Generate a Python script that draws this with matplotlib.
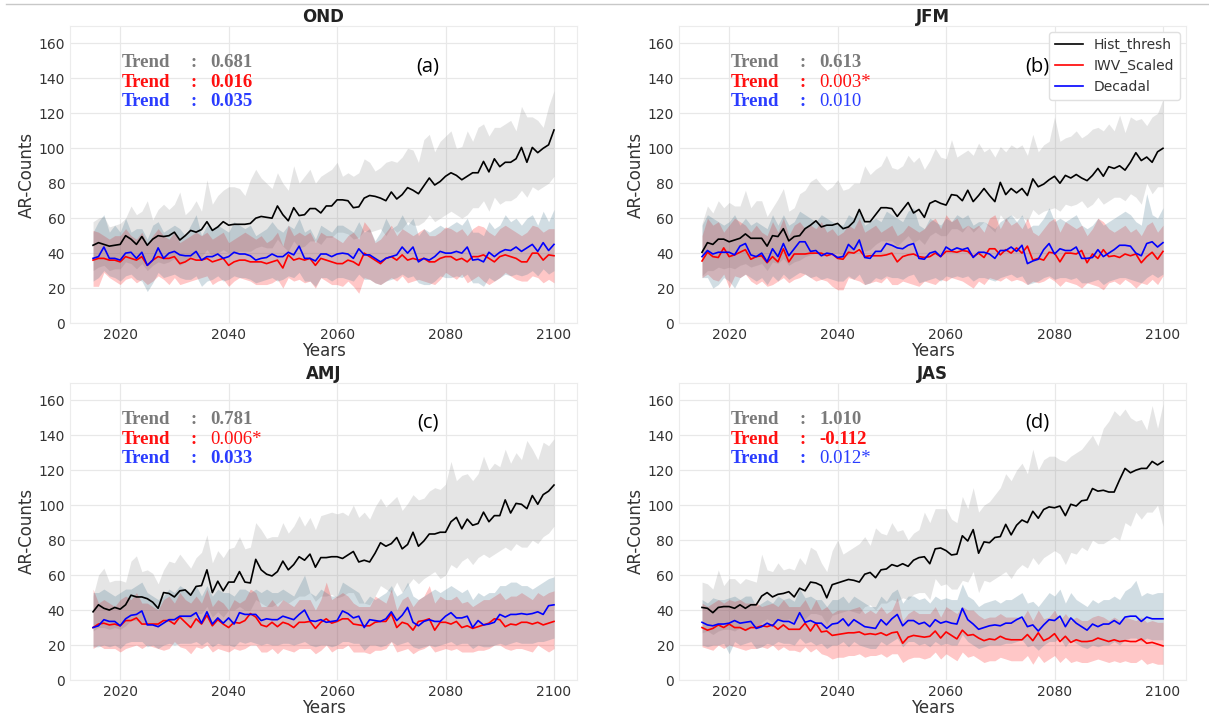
import matplotlib
matplotlib.use("Agg")
import matplotlib.pyplot as plt
import numpy as np

years = np.arange(2015, 2101)

# ---------------- OND ----------------
ond_hist = [44.5, 46, 45, 44, 44.5, 45, 50, 48, 45, 49.5,
            44.5, 48, 50, 49.5, 50, 52, 47.5, 50, 53, 52,
            53.5, 58, 53, 55, 58, 56, 56.5, 56.5, 56.5, 57,
            60, 61, 60.5, 60, 67, 62, 58.5, 66, 61.5, 62,
            65.5, 65.5, 63, 67, 67, 70.5, 70.5, 70, 66, 66.5,
            71.5, 73, 72.5, 71.5, 70, 75, 71, 73.5, 77.5, 76,
            74, 78.5, 83, 79, 81, 84, 86, 84.5, 82, 84,
            86, 86, 92.5, 86.5, 94, 89.5, 92, 92, 94, 100.5,
            92, 100.5, 97.5, 100, 102, 110.5]
ond_hist_hi = [58, 60, 61, 55, 56, 57, 60, 67, 62, 64,
               70, 59, 65, 68, 65, 68, 75, 62, 65, 70,
               64, 82, 68, 73, 76, 78, 78, 77, 73, 82,
               88, 83, 80, 77, 86, 80, 76, 90, 80, 84,
               88, 80, 84, 86, 88, 92, 84, 86, 84, 86,
               94, 92, 87, 89, 92, 93, 92, 95, 100, 99,
               92, 105, 108, 98, 104, 107, 110, 100, 101, 110,
               104, 112, 114, 107, 112, 112, 114, 116, 110, 124,
               118, 118, 116, 112, 124, 133]
ond_hist_lo = [30, 32, 33, 30, 31, 31, 35, 34, 31, 34,
               30, 33, 35, 34, 35, 37, 33, 35, 38, 37,
               38, 42, 38, 40, 42, 40, 40, 41, 41, 41,
               43, 44, 43, 43, 48, 44, 41, 47, 43, 44,
               47, 47, 45, 49, 49, 52, 52, 51, 48, 49,
               53, 52, 53, 54, 50, 55, 52, 54, 58, 56,
               56, 58, 62, 58, 60, 62, 64, 62, 60, 62,
               66, 66, 70, 64, 72, 68, 70, 70, 72, 76,
               72, 78, 76, 78, 80, 84]
ond_iwv = [36, 37, 37, 36, 36, 35, 38, 37, 36, 38,
           33, 36, 38, 37, 37, 38, 34, 35, 37, 36,
           36, 37, 35, 36, 37, 33, 35, 36, 36, 35,
           35, 35, 34, 35, 36, 31.5, 39, 36, 37, 36,
           37, 33, 37, 36, 35, 34, 34, 36, 35, 33,
           40, 38, 36, 34, 37, 38, 36, 39, 36, 37,
           36, 37, 35, 35, 37, 38, 38, 36, 37, 35,
           38, 38, 39, 37, 35, 38, 39, 38, 37, 35,
           35, 40, 40, 36, 39, 38.5]
ond_iwv_hi = [53, 52, 50, 48, 50, 50, 54, 50, 48, 52,
              45, 50, 54, 50, 48, 52, 46, 48, 50, 52,
              50, 52, 48, 50, 52, 46, 48, 50, 52, 50,
              48, 50, 46, 48, 52, 44, 56, 50, 52, 50,
              52, 46, 52, 50, 50, 48, 46, 50, 52, 48,
              58, 54, 46, 48, 52, 56, 50, 54, 52, 50,
              52, 54, 50, 50, 52, 55, 54, 52, 54, 50,
              54, 56, 55, 52, 50, 54, 56, 54, 52, 50,
              52, 56, 55, 52, 54, 54]
ond_iwv_lo = [21, 21, 29, 26, 24, 22, 25, 26, 23, 25,
              22, 24, 27, 25, 22, 26, 22, 23, 24, 25,
              26, 27, 22, 24, 25, 21, 24, 26, 25, 24,
              22, 22, 22, 23, 25, 20, 26, 24, 25, 23,
              24, 20, 26, 24, 22, 22, 21, 24, 21, 17,
              26, 25, 23, 22, 24, 26, 24, 27, 23, 24,
              25, 24, 23, 22, 25, 29, 27, 25, 28, 23,
              25, 27, 24, 22, 24, 26, 29, 27, 25, 24,
              24, 27, 26, 23, 25, 23]
ond_dec = [37, 38, 43.5, 37, 37, 36, 40, 40.5, 37, 40.5,
           33, 36, 43, 37, 40, 41, 39, 38.5, 38.5, 41,
           36, 38, 38, 39.5, 37, 38, 40.5, 39.5, 39.5, 38.5,
           36, 37, 37.5, 39.5, 38, 38, 40.5, 39, 44, 37,
           37, 35.5, 39.5, 39.5, 38, 39.5, 40, 39.5, 37, 42.5,
           39, 39, 37, 35, 37, 38, 39, 43.5, 40, 43.5,
           35, 37, 36, 38, 41, 40, 40, 41, 40, 43.5,
           36, 36.5, 35, 40.5, 38, 40.5, 42, 41.5, 43.5, 41,
           43, 45, 41, 46, 41.5, 45]
ond_dec_hi = [52, 58, 62, 52, 56, 52, 60, 52, 54, 54,
              48, 56, 58, 52, 54, 56, 54, 50, 56, 62,
              50, 56, 54, 56, 54, 52, 58, 56, 54, 56,
              50, 52, 54, 58, 54, 52, 56, 54, 60, 52,
              54, 48, 56, 54, 52, 56, 56, 54, 52, 58,
              52, 54, 47, 52, 60, 54, 56, 62, 56, 60,
              50, 54, 52, 54, 56, 54, 56, 58, 56, 60,
              52, 52, 50, 58, 54, 56, 62, 58, 60, 56,
              60, 62, 56, 64, 58, 65]
ond_dec_lo = [24, 26, 30, 27, 26, 24, 27, 28, 25, 24,
              18, 23, 29, 26, 27, 28, 26, 25, 25, 27,
              21, 24, 25, 27, 24, 25, 27, 26, 26, 25,
              23, 24, 25, 26, 24, 25, 27, 26, 29, 24,
              24, 21, 26, 26, 24, 26, 26, 25, 24, 28,
              25, 25, 23, 22, 24, 25, 26, 28, 26, 27,
              23, 22, 22, 24, 27, 26, 26, 27, 26, 28,
              23, 23, 21, 26, 24, 26, 28, 27, 28, 27,
              28, 30, 27, 31, 28, 30]

# ---------------- JFM ----------------
jfm_hist = [40.5, 46, 45, 48, 48, 46.5, 47.5, 48.5, 51, 48.5,
            48.5, 48.5, 44, 50, 49.5, 54, 47, 49.5, 50, 54,
            56, 58.5, 55, 56, 56, 57, 54, 55, 58, 65,
            58, 58, 62, 66, 66, 65.5, 61, 65, 69, 63,
            65, 60.5, 68.5, 70, 68.5, 67.5, 73.5, 73, 70, 76,
            69.5, 73, 77, 73, 69.5, 80.5, 73.5, 77, 74.5, 77,
            73, 82.5, 78, 79.5, 82, 84, 80, 84.5, 83, 85,
            83, 81.5, 84.5, 88.5, 84, 89.5, 88.5, 90, 87.5, 92,
            97.5, 93, 95, 92, 98, 100]
jfm_hist_hi = [57, 67, 63, 70, 66, 69, 67, 67, 76, 66,
               70, 70, 61, 66, 71, 77, 64, 66, 74, 76,
               81, 83, 79, 76, 78, 82, 76, 77, 80, 80,
               90, 85, 88, 90, 96, 89, 88, 90, 96, 92,
               95, 88, 93, 100, 95, 94, 105, 95, 97, 99,
               96, 103, 98, 100, 95, 101, 98, 102, 100, 102,
               96, 108, 98, 102, 104, 118, 104, 106, 107, 110,
               106, 108, 111, 112, 110, 114, 110, 119, 109, 118,
               116, 117, 113, 118, 120, 128]
jfm_hist_lo = [27, 30, 30, 32, 31, 32, 31, 33, 34, 32,
               33, 34, 30, 35, 34, 37, 33, 35, 36, 38,
               39, 40, 38, 39, 40, 40, 38, 39, 41, 45,
               41, 42, 45, 47, 47, 47, 44, 47, 50, 46,
               48, 45, 50, 52, 50, 50, 54, 54, 52, 56,
               52, 55, 58, 55, 52, 62, 58, 62, 60, 61,
               58, 65, 62, 64, 65, 66, 64, 68, 67, 68,
               70, 66, 68, 72, 68, 70, 72, 72, 70, 74,
               72, 68, 80, 74, 78, 78]
jfm_iwv = [35.5, 40.5, 38, 37.5, 43, 38, 39, 40.5, 42, 36.5,
           38, 38.5, 34.5, 38, 35, 42.5, 35, 39.5, 39.5, 39.5,
           40, 40, 40, 38.5, 39.5, 37, 36.5, 40.5, 40, 42,
           38, 38.5, 38.5, 38.5, 39, 40, 35, 38, 39, 39.5,
           38, 37.5, 38, 40, 38, 41, 41, 40.5, 41.5, 41,
           38, 40, 37.5, 42.5, 42.5, 39, 42, 40, 43, 40,
           44, 36, 37, 36, 40.5, 40, 35, 40, 40, 39.5,
           41.5, 34.5, 39.5, 37, 42, 38, 38.5, 37.5, 39.5, 38.5,
           39.5, 34.5, 38, 40.5, 36.5, 41]
jfm_iwv_hi = [50, 60, 56, 58, 52, 56, 60, 58, 56, 52,
              56, 52, 50, 58, 52, 60, 50, 56, 58, 54,
              56, 54, 58, 52, 54, 50, 52, 56, 54, 60,
              52, 54, 56, 52, 54, 56, 50, 52, 56, 54,
              52, 54, 58, 60, 54, 62, 58, 60, 54, 56,
              54, 56, 52, 60, 62, 54, 60, 56, 58, 54,
              60, 52, 50, 54, 58, 60, 52, 58, 56, 54,
              56, 50, 54, 60, 58, 54, 52, 54, 56, 52,
              54, 50, 56, 58, 52, 56]
jfm_iwv_lo = [26, 28, 25, 24, 28, 20, 27, 26, 28, 24,
              22, 24, 21, 22, 24, 26, 23, 25, 26, 28,
              26, 24, 25, 24, 21, 19, 19, 26, 25, 24,
              22, 23, 24, 23, 26, 22, 22, 24, 23, 22,
              21, 24, 23, 22, 25, 24, 26, 25, 24, 22,
              20, 24, 22, 26, 25, 24, 26, 24, 25, 24,
              22, 24, 23, 24, 26, 24, 21, 24, 23, 22,
              20, 23, 22, 21, 19, 23, 24, 22, 25, 23,
              20, 23, 22, 25, 22, 27]
jfm_dec = [38, 41.5, 39.5, 40.5, 40.5, 40.5, 39, 44, 45.5, 39,
           38, 40, 35, 42.5, 38, 45.5, 38.5, 42.5, 46.5, 46.5,
           41, 41.5, 38.5, 40, 39.5, 37.5, 38, 45, 42, 47.5,
           37.5, 37, 41, 41, 45.5, 44.5, 43, 42.5, 44.5, 45.5,
           37, 36.5, 40, 41, 38, 43.5, 41.5, 43, 42, 43,
           37.5, 40.5, 40.5, 39.5, 37, 41.5, 41.5, 43.5, 41, 44.5,
           34, 35.5, 36.5, 42, 45.5, 39.5, 42.5, 41.5, 41.5, 43.5,
           37, 37, 37.5, 42, 38, 40, 42, 44.5, 44.5, 44,
           40, 38.5, 45.5, 46.5, 43.5, 46]
jfm_dec_hi = [56, 62, 60, 58, 56, 58, 62, 56, 60, 56,
              58, 56, 54, 62, 56, 62, 56, 58, 64, 62,
              60, 58, 62, 60, 58, 56, 56, 62, 60, 64,
              56, 58, 60, 58, 64, 62, 60, 58, 64, 66,
              56, 54, 60, 58, 56, 60, 58, 62, 60, 62,
              56, 58, 58, 56, 54, 58, 60, 62, 58, 62,
              54, 56, 56, 60, 66, 58, 60, 58, 60, 62,
              56, 54, 56, 60, 56, 58, 60, 62, 64, 62,
              58, 56, 74, 62, 60, 66]
jfm_dec_lo = [26, 26, 20, 22, 26, 24, 20, 26, 28, 26,
              24, 26, 22, 27, 24, 28, 25, 27, 29, 28,
              26, 27, 25, 26, 25, 24, 24, 27, 25, 28,
              22, 23, 26, 25, 27, 26, 26, 25, 27, 28,
              23, 24, 25, 26, 24, 27, 26, 27, 26, 27,
              24, 26, 26, 25, 24, 26, 27, 28, 26, 27,
              22, 23, 24, 26, 27, 25, 26, 26, 25, 26,
              23, 23, 24, 25, 22, 24, 25, 26, 26, 25,
              24, 23, 26, 28, 26, 28]

# ---------------- AMJ ----------------
amj_hist = [39, 43, 41, 40, 41.5, 40.5, 43, 48.5, 47.5, 47.5,
            46.5, 44.5, 41, 50, 49.5, 47.5, 51, 51.5, 48.5, 53.5,
            54, 63, 50, 56.5, 51, 56, 56, 62, 56, 55.5,
            69, 63, 60.5, 59.5, 62, 68, 63, 66, 70.5, 68.5,
            72, 64.5, 70, 70, 70.5, 70.5, 69.5, 71.5, 73.5, 67.5,
            68.5, 67.5, 72.5, 78.5, 76.5, 78, 81.5, 75, 77.5, 84.5,
            76.5, 79.5, 83.5, 83.5, 84.5, 84.5, 90.5, 93, 86.5, 92,
            88.5, 89.5, 96, 90.5, 94, 94, 103, 95.5, 101, 100.5,
            98, 105.5, 100.5, 106, 108, 111.5]
amj_hist_hi = [48, 60, 64, 56, 57, 57, 56, 68, 71, 62,
               63, 61, 55, 63, 68, 67, 72, 68, 64, 70,
               73, 83, 67, 74, 70, 75, 76, 82, 75, 76,
               90, 86, 81, 82, 82, 90, 84, 88, 94, 88,
               93, 86, 94, 95, 96, 95, 96, 94, 100, 93,
               96, 92, 99, 104, 99, 102, 105, 97, 101, 106,
               103, 104, 108, 110, 109, 112, 125, 114, 117, 118,
               114, 118, 128, 120, 124, 122, 132, 124, 130, 126,
               137, 132, 126, 136, 134, 138]
amj_hist_lo = [28, 30, 30, 29, 30, 29, 31, 34, 34, 33,
               32, 32, 30, 35, 34, 34, 36, 36, 35, 38,
               38, 42, 36, 39, 36, 40, 40, 42, 40, 40,
               46, 44, 42, 42, 44, 46, 44, 46, 48, 48,
               50, 45, 48, 48, 49, 47, 48, 50, 50, 44,
               44, 43, 48, 54, 52, 50, 56, 50, 54, 58,
               55, 58, 60, 62, 58, 60, 66, 64, 68, 70,
               66, 70, 72, 70, 72, 74, 76, 74, 78, 76,
               76, 80, 78, 82, 84, 88]
amj_iwv = [30, 32, 32.5, 31.5, 32, 31, 34, 34, 35.5, 32,
           32, 32, 32, 34, 34, 32, 36, 33, 30, 35,
           32, 37, 31, 34.5, 32, 30, 33, 32.5, 34, 38,
           36, 31.5, 30.5, 33, 30.5, 33, 32, 30, 33, 33,
           33.5, 29.5, 33, 35, 32.5, 33.5, 35, 35, 32, 31.5,
           31, 31, 33, 33.5, 33.5, 38, 30, 33, 32, 28.5,
           33.5, 34, 35, 28.5, 33, 33, 32, 33.5, 30, 31,
           29.5, 30.5, 31.5, 32.5, 35, 34.5, 30.5, 32, 31.5, 33,
           33, 32, 33, 31.5, 32.5, 33.5]
amj_iwv_hi = [52, 44, 46, 44, 42, 46, 48, 46, 50, 44,
              44, 42, 40, 46, 48, 44, 50, 46, 44, 48,
              44, 52, 42, 46, 44, 40, 46, 44, 46, 52,
              50, 42, 42, 46, 42, 46, 44, 42, 46, 46,
              46, 40, 46, 56, 46, 48, 50, 48, 44, 42,
              42, 42, 48, 46, 44, 52, 40, 46, 48, 42,
              46, 48, 54, 44, 48, 46, 46, 48, 44, 45,
              42, 44, 46, 46, 48, 50, 46, 48, 48, 50,
              48, 46, 50, 48, 50, 51]
amj_iwv_lo = [18, 20, 18, 18, 18, 16, 18, 19, 20, 18,
              20, 19, 18, 17, 18, 22, 19, 18, 15, 19,
              18, 20, 16, 18, 17, 16, 18, 17, 18, 20,
              20, 16, 16, 18, 15, 18, 17, 16, 18, 18,
              18, 15, 17, 20, 16, 18, 18, 20, 16, 16,
              16, 15, 17, 17, 18, 22, 16, 17, 18, 15,
              17, 18, 20, 16, 17, 18, 17, 18, 16, 16,
              16, 17, 17, 18, 20, 20, 18, 17, 18, 18,
              17, 16, 20, 18, 16, 18]
amj_dec = [30, 31, 34.5, 33.5, 33.5, 31, 35, 37, 37.5, 39.5,
           31.5, 31.5, 30.5, 32.5, 34.5, 34.5, 36.5, 36.5, 36.5, 38.5,
           32.5, 39, 32, 35.5, 32.5, 35.5, 32, 38.5, 37.5, 37.5,
           37.5, 34, 35, 34.5, 34.5, 36.5, 35.5, 34.5, 37.5, 40,
           34, 33.5, 34.5, 33, 33.5, 34, 39.5, 38, 35.5, 36.5,
           30, 34.5, 34, 33.5, 35, 39, 34, 37, 41.5, 33,
           31, 33.5, 34.5, 33.5, 33.5, 36.5, 38.5, 35.5, 35.5, 36.5,
           30, 34, 31.5, 32, 33, 37.5, 36, 37.5, 37.5, 38,
           37.5, 38, 39, 37.5, 42.5, 43]
amj_dec_hi = [50, 50, 52, 50, 48, 50, 52, 52, 54, 56,
              50, 48, 46, 48, 52, 50, 54, 52, 50, 54,
              48, 54, 48, 52, 50, 50, 48, 52, 52, 50,
              52, 50, 52, 50, 50, 52, 50, 48, 54, 60,
              50, 48, 52, 50, 48, 48, 56, 54, 52, 50,
              44, 48, 46, 48, 50, 54, 48, 50, 56, 48,
              46, 48, 50, 52, 50, 52, 54, 52, 50, 52,
              46, 50, 48, 50, 50, 54, 54, 56, 56, 54,
              54, 52, 54, 56, 58, 59]
amj_dec_lo = [19, 19, 20, 19, 20, 18, 21, 22, 22, 22,
              19, 20, 18, 20, 21, 20, 21, 21, 21, 22,
              20, 22, 19, 21, 20, 20, 19, 22, 21, 22,
              21, 20, 21, 20, 20, 21, 21, 20, 21, 22,
              20, 19, 20, 20, 19, 20, 22, 22, 21, 21,
              17, 20, 20, 19, 20, 22, 20, 21, 22, 19,
              18, 19, 20, 19, 20, 21, 22, 20, 21, 21,
              18, 20, 19, 19, 20, 21, 20, 21, 22, 21,
              21, 21, 22, 22, 23, 24]

# ---------------- JAS ----------------
jas_hist = [41.5, 41, 38.5, 41.5, 42, 42, 41, 43, 41, 43,
            43, 48, 50, 47.5, 49, 49.5, 50.5, 47.5, 52.5, 51,
            56, 55.5, 54, 47, 54.5, 55.5, 56.5, 57.5, 57, 56,
            60.5, 61.5, 58.5, 63, 63.5, 66, 65, 66.5, 65, 68.5,
            70, 70.5, 66.5, 75, 75.5, 74, 71.5, 72, 82.5, 79.5,
            86, 72.5, 79, 78.5, 81.5, 82, 89, 83, 88.5, 91.5,
            90, 96.5, 92.5, 97.5, 99, 98.5, 99.5, 94, 100.5, 99.5,
            102.5, 103, 109.5, 108, 108.5, 107.5, 107.5, 114.5, 121, 118.5,
            120, 121, 121, 125, 123, 125]
jas_hist_hi = [56, 55, 52, 63, 54, 58, 58, 55, 58, 57,
               56, 72, 63, 62, 67, 63, 64, 63, 70, 66,
               76, 74, 67, 62, 74, 80, 72, 74, 76, 78,
               82, 77, 87, 84, 83, 90, 85, 86, 80, 84,
               86, 96, 90, 98, 98, 98, 92, 90, 105, 98,
               110, 96, 100, 102, 106, 110, 118, 114, 120, 124,
               118, 132, 120, 126, 128, 128, 126, 125, 128, 130,
               132, 136, 140, 134, 144, 148, 154, 151, 155, 150,
               148, 149, 143, 157, 144, 158]
jas_hist_lo = [27, 28, 26, 28, 29, 29, 28, 30, 28, 30,
               30, 33, 35, 33, 34, 34, 35, 33, 36, 35,
               38, 38, 37, 32, 37, 38, 39, 40, 39, 38,
               42, 43, 40, 44, 44, 46, 45, 47, 46, 49,
               50, 50, 46, 58, 54, 55, 52, 52, 57, 56,
               62, 50, 57, 56, 58, 60, 62, 58, 63, 66,
               64, 70, 66, 70, 72, 74, 72, 66, 73, 72,
               76, 74, 80, 78, 78, 80, 82, 80, 90, 88,
               96, 92, 96, 96, 100, 88]
jas_iwv = [30, 28.5, 29.5, 31.5, 30, 32, 30, 30, 28.5, 30,
           30, 31, 30.5, 31.5, 29, 31.5, 29, 29, 29, 32.5,
           28, 32.5, 27.5, 28, 25.5, 26, 26.5, 27, 27, 27.5,
           26, 26.5, 26, 27, 25.5, 27, 27.5, 21, 24.5, 25.5,
           25, 24.5, 25, 28, 24, 27.5, 25.5, 23.5, 28.5, 25.5,
           26, 24, 22.5, 23.5, 23, 25, 23.5, 23, 23, 23,
           26, 22.5, 27, 22.5, 24, 26.5, 22, 25, 21.5, 23,
           22, 22, 22.5, 24, 23, 22, 23, 22, 22.5, 22,
           22, 23.5, 21, 21.5, 20.5, 19.5]
jas_iwv_hi = [44, 42, 44, 46, 44, 46, 45, 46, 44, 44,
              44, 42, 43, 44, 42, 46, 42, 42, 42, 46,
              40, 46, 40, 42, 38, 40, 40, 40, 41, 42,
              38, 40, 38, 42, 38, 40, 47, 34, 38, 40,
              38, 38, 38, 42, 36, 42, 40, 38, 42, 40,
              40, 37, 35, 36, 36, 38, 36, 36, 36, 35,
              40, 34, 40, 35, 36, 40, 34, 38, 34, 36,
              34, 34, 36, 37, 36, 34, 36, 34, 36, 35,
              34, 36, 33, 34, 33, 33]
jas_iwv_lo = [19, 18, 17, 20, 18, 20, 19, 18, 17, 18,
              18, 19, 18, 20, 17, 19, 17, 17, 16, 19,
              16, 18, 15, 14, 12, 13, 13, 14, 14, 15,
              13, 14, 14, 15, 13, 15, 15, 10, 12, 13,
              13, 12, 13, 16, 12, 15, 13, 11, 16, 13,
              14, 12, 10, 11, 11, 13, 12, 11, 11, 11,
              14, 9, 14, 10, 12, 14, 10, 13, 10, 11,
              10, 10, 11, 12, 11, 10, 11, 10, 11, 10,
              10, 12, 9, 10, 9, 9]
jas_dec = [33, 31.5, 31, 32, 32, 32.5, 34, 32.5, 33, 33.5,
           29.5, 30.5, 32.5, 31, 34.5, 33.5, 33.5, 32, 38.5, 33,
           34, 32.5, 32.5, 29.5, 32, 32.5, 35, 31, 34.5, 32.5,
           30.5, 30, 29.5, 34.5, 31.5, 35, 37.5, 31, 34, 34,
           32, 33, 30.5, 34.5, 32.5, 33.5, 32.5, 32, 41, 34.5,
           32, 29, 30, 31, 31.5, 31, 32.5, 32.5, 34.5, 36,
           30.5, 31.5, 28, 31.5, 34.5, 34, 36.5, 30.5, 35.5, 32.5,
           30.5, 28.5, 32, 30.5, 32, 32, 34, 32, 36, 36.5,
           36.5, 33.5, 36, 35, 35, 35]
jas_dec_hi = [46, 44, 47, 46, 46, 47, 48, 46, 48, 48,
              42, 44, 46, 44, 48, 46, 47, 45, 52, 47,
              48, 46, 46, 42, 46, 46, 48, 44, 48, 46,
              44, 42, 42, 48, 45, 50, 52, 44, 48, 48,
              46, 47, 44, 48, 46, 47, 46, 46, 55, 48,
              46, 42, 44, 45, 46, 44, 46, 46, 48, 50,
              44, 45, 42, 46, 50, 48, 52, 44, 50, 46,
              44, 42, 46, 44, 46, 46, 48, 46, 51, 53,
              57, 48, 50, 49, 50, 50]
jas_dec_lo = [20, 19, 20, 20, 21, 15, 22, 20, 21, 22,
              18, 19, 21, 20, 22, 21, 21, 20, 24, 21,
              22, 20, 21, 18, 20, 20, 22, 19, 22, 20,
              19, 18, 18, 22, 20, 22, 24, 19, 22, 22,
              20, 21, 19, 22, 20, 21, 20, 20, 26, 22,
              20, 18, 19, 20, 20, 20, 21, 21, 22, 23,
              19, 20, 17, 20, 22, 22, 24, 19, 23, 21,
              19, 18, 20, 19, 20, 20, 22, 20, 23, 24,
              24, 22, 24, 23, 23, 23]

seasons = ["OND", "JFM", "AMJ", "JAS"]
tags = ["(a)", "(b)", "(c)", "(d)"]
# trend value, shown in bold when significant
trends = [[("0.681", True), ("0.016", True), ("0.035", True)],
          [("0.613", True), ("0.003*", False), ("0.010", False)],
          [("0.781", True), ("0.006*", False), ("0.033", True)],
          [("1.010", True), ("-0.112", True), ("0.012*", False)]]

series = {
    "OND": (ond_hist, ond_hist_lo, ond_hist_hi, ond_iwv, ond_iwv_lo, ond_iwv_hi,
            ond_dec, ond_dec_lo, ond_dec_hi),
    "JFM": (jfm_hist, jfm_hist_lo, jfm_hist_hi, jfm_iwv, jfm_iwv_lo, jfm_iwv_hi,
            jfm_dec, jfm_dec_lo, jfm_dec_hi),
    "AMJ": (amj_hist, amj_hist_lo, amj_hist_hi, amj_iwv, amj_iwv_lo, amj_iwv_hi,
            amj_dec, amj_dec_lo, amj_dec_hi),
    "JAS": (jas_hist, jas_hist_lo, jas_hist_hi, jas_iwv, jas_iwv_lo, jas_iwv_hi,
            jas_dec, jas_dec_lo, jas_dec_hi),
}

trend_colors = ["#7a7a7a", "#ff1010", "#2a3cff"]
serif = "Liberation Serif"


def draw_panel(ax, season, tag, trend):
    (hist, hist_lo, hist_hi, iwv, iwv_lo, iwv_hi,
     dec, dec_lo, dec_hi) = series[season]

    ax.fill_between(years, hist_lo, hist_hi, color="grey", alpha=0.2, lw=0)
    ax.fill_between(years, iwv_lo, iwv_hi, color="red", alpha=0.22, lw=0)
    ax.fill_between(years, dec_lo, dec_hi, color="#4a7a92", alpha=0.25, lw=0)

    ax.plot(years, hist, color="black", lw=1.2, label="Hist_thresh")
    ax.plot(years, iwv, color="red", lw=1.2, label="IWV_Scaled")
    ax.plot(years, dec, color="blue", lw=1.2, label="Decadal")

    ax.set_ylim(0, 170)
    ax.set_yticks(range(0, 161, 20))
    ax.set_xticks(range(2020, 2101, 20))
    ax.grid(True, color="#e8e8e8", lw=0.9)
    ax.set_axisbelow(True)
    for sp in ax.spines.values():
        sp.set_color("#ececec")
    ax.tick_params(length=0, pad=3.5, labelsize=10, colors="#333333")
    ax.set_xlabel("Years", fontsize=12, color="#333333", labelpad=0)
    ax.set_ylabel("AR-Counts", fontsize=12, color="#333333", labelpad=2)
    ax.set_title(season, fontsize=12, fontweight="bold", color="#222222", pad=2.5)

    rows_y = [0.877, 0.81, 0.745]
    for (val, strong), c, y in zip(trend, trend_colors, rows_y):
        ax.text(0.102, y, "Trend", transform=ax.transAxes, family=serif,
                fontweight="bold", fontsize=13.5, color=c, va="center")
        ax.text(0.243, y, ":", transform=ax.transAxes, family=serif,
                fontweight="bold", fontsize=13.5, color=c, va="center", ha="center")
        ax.text(0.277, y, val, transform=ax.transAxes, family=serif,
                fontweight="bold" if strong else "normal", fontsize=13.5,
                color=c, va="center")

    ax.text(0.706, 0.865, tag, transform=ax.transAxes, family="Open Sans",
            fontsize=14.5, color="black", ha="center", va="center")


fig = plt.figure(figsize=(12.09, 7.17), dpi=100)
boxes = [[0.0579, 0.5495, 0.4194, 0.4142],
         [0.5616, 0.5495, 0.4194, 0.4142],
         [0.0579, 0.0516, 0.4194, 0.4146],
         [0.5616, 0.0516, 0.4194, 0.4146]]

for box, season, tag, trend in zip(boxes, seasons, tags, trends):
    ax = fig.add_axes(box)
    draw_panel(ax, season, tag, trend)
    if season == "JFM":
        leg = ax.legend(loc="upper right", fontsize=10, frameon=True,
                        framealpha=1, edgecolor="#e0e0e0", fancybox=True,
                        borderaxespad=0.45)
        for t in leg.get_texts():
            t.set_color("#333333")

# thin rule along the top edge
fig.add_artist(plt.Line2D([0.005, 1.0], [0.9945, 0.9945], color="#c8c8c8", lw=1.0))

fig.savefig("out.png", dpi=100)
